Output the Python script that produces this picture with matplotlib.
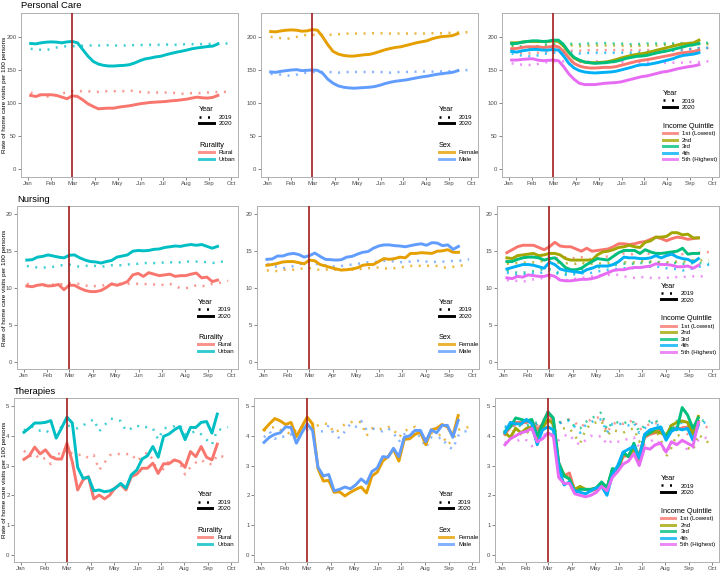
import matplotlib
matplotlib.use("Agg")
import matplotlib.pyplot as plt
from matplotlib.lines import Line2D
import numpy as np

plt.rcParams['font.family'] = ['Liberation Sans', 'DejaVu Sans']

# ---- x axis: days since 1 Jan 2020, weekly observations starting 5 Jan ----
start_day = 4
month_ticks = [0, 31, 60, 91, 121, 152, 182, 213, 244, 274]
month_labels = ['Jan', 'Feb', 'Mar', 'Apr', 'May', 'Jun', 'Jul', 'Aug', 'Sep', 'Oct']
covid_day = 60

# ================= Personal Care =================
pc_rural_2020 = [111.6, 110, 112.6, 112.6, 112.6, 111.6, 109, 106.6, 111, 110, 105, 99, 95, 91.4, 92, 92.4, 92.4, 94, 95, 96,
                 97.5, 99, 100, 101, 101.5, 102, 102.5, 103.5, 104, 105, 106, 107.6, 109, 108, 107.6, 108.6, 111.6]
pc_urban_2020 = [190, 189.4, 191, 192, 192.4, 192, 191, 192.4, 193, 191, 181, 171, 163, 159, 157, 156, 156, 156.6, 157, 158,
                 160.6, 164, 166.7, 168, 169.7, 170.7, 173, 175, 176.8, 178.3, 180, 182, 183.3, 184.3, 185.4, 186, 189.4]
pc_rural_2019 = [116, 112, 113, 110, 110, 112, 114, 117, 118, 118, 118, 118, 117, 117, 118, 118, 118, 118, 118, 119,
                 118, 117, 116, 116, 116, 116, 116, 116, 115, 114, 115, 115, 115, 115, 116, 116, 117, 117, 117]
pc_urban_2019 = [182, 181, 180.5, 180, 182, 184, 185, 186, 186, 186, 186.5, 187, 187, 187, 187, 187.5, 187, 187, 187, 187,
                 187.5, 187.5, 188, 188, 188, 188, 188.5, 188, 188, 188.5, 189, 189, 189, 189, 189, 189.5, 190, 190, 190]

pc_female_2020 = [208, 207.5, 209, 210, 210.5, 210, 208.5, 209, 211, 210, 200, 188, 178, 174, 172, 171, 171, 172, 173, 173.5,
                  175.5, 178, 180.5, 182.5, 184, 185, 187, 189, 191, 192.5, 194, 197, 199, 200.5, 201, 202, 205]
pc_male_2020 = [147, 146.5, 148, 149, 150, 150.5, 149, 149.5, 150, 149.5, 145, 136, 130, 126, 124, 123, 122.5, 123, 123.5, 124,
                125, 127, 129.5, 131.5, 133, 134, 135, 136.5, 138, 139.5, 140.5, 142, 143.5, 144.5, 145.5, 146.5, 149]
pc_female_2019 = [200, 199, 198, 197, 198, 200, 202, 203, 203, 203, 203, 203.5, 203, 204, 204.5, 205, 205, 205, 205, 205.5,
                  205.5, 205.5, 205, 205, 205, 205, 205, 205, 205, 205, 205, 205.5, 205.5, 205.5, 206, 206, 206.5, 207, 207]
pc_male_2019 = [144, 144, 143, 142, 141, 143, 145, 146, 147, 147, 147, 147, 146.5, 146, 146.5, 147, 147, 147, 147, 147,
                147, 147, 146.5, 146, 146.5, 147, 147, 147, 147.5, 148, 147.5, 147.5, 147.5, 148, 148, 148.5, 149, 149.5, 150]

pc_q1_2020 = [182, 182.5, 184, 185, 185, 185, 184, 184.5, 186, 185, 178, 168, 160, 156, 154, 153, 153, 153.5, 154, 154,
              155, 157, 159, 161, 163, 164.5, 165.5, 167, 168.5, 170, 171.5, 173, 175, 176, 177, 178, 180]
pc_q2_2020 = [191, 191, 192, 193, 193, 193, 193, 193, 194, 193, 186, 176, 168, 164, 162, 161, 161, 161.5, 162, 163.5,
              165.5, 168, 170, 172, 173.5, 174.5, 176, 178, 180, 182, 184, 186, 188, 189.5, 190, 191, 195]
pc_q3_2020 = [190, 190, 192, 193, 194, 194, 193, 193.5, 195, 195, 188, 177, 169, 165, 162, 161, 160, 160.5, 161, 162,
              163, 165, 167.5, 169, 170.5, 171, 172, 174, 176, 177.5, 179, 181, 183, 185, 187, 188, 190]
pc_q4_2020 = [178, 177, 179, 180, 181, 181, 180, 180, 181, 180, 171, 160, 153, 149, 147, 146, 145.5, 146, 146.5, 147,
              148, 150, 152, 154, 156.5, 158, 158, 159.5, 161, 163, 165, 167, 170, 172, 173, 174, 176]
pc_q5_2020 = [165, 165, 166, 166.5, 167, 165, 164, 164.5, 165, 164, 155, 144, 136, 130, 128, 128, 128, 129, 130, 130.5,
              131, 132, 134, 136, 138, 140, 141, 143, 145, 147, 148, 150, 152, 153.5, 155, 156, 158]
pc_q1_2019 = [178, 176, 176, 175, 175, 176, 177, 178, 179, 179, 179, 179, 179, 179, 179, 180, 180, 180, 180, 180,
              180, 180, 180, 180, 180, 180, 180, 180, 180, 180, 181, 181, 181, 181, 182, 182, 183, 183, 183]
pc_q2_2019 = [186, 184, 184, 183, 183, 185, 186, 187, 187, 187, 187, 187, 187, 186, 186, 187, 187, 187, 187, 187,
              187, 187, 186, 186, 186, 187, 187, 187, 187, 188, 188, 188, 188, 188, 188.5, 189, 189, 189, 189]
pc_q3_2019 = [188, 185, 186, 185, 184, 186, 188, 189, 190, 190, 190, 190, 189, 189, 190, 190, 190, 190.5, 190.5, 190,
              190, 190, 189, 189, 189, 189.5, 190, 190, 190, 190, 190, 190, 190.5, 190.5, 190.5, 191, 191, 191, 191]
pc_q4_2019 = [175, 172, 172, 171, 170, 172, 174, 175, 176, 176, 176, 176, 176, 175, 175, 176, 176, 176, 176, 176,
              176, 176, 176, 176, 176, 177, 177, 178, 178, 178, 179, 179, 179, 180, 181, 182, 183, 183, 184]
pc_q5_2019 = [160, 159, 158, 158, 157, 159, 161, 162, 163, 163, 163, 163, 162, 162, 162, 163, 163, 163, 162, 162,
              162, 162, 161, 161, 161, 161, 161, 161, 161, 161, 161, 161, 161, 161, 162, 162, 162, 163, 163]

# ================= Nursing =================
nu_rural_2020 = [10.3, 10.2, 10.4, 10.5, 10.3, 10.35, 10.5, 9.8, 10.4, 10.4, 10.0, 9.7, 9.55, 9.55, 9.7, 10.1, 10.6, 10.4, 10.6, 10.9,
                 11.8, 12.0, 11.6, 12.1, 11.9, 11.7, 11.8, 11.9, 11.6, 11.7, 11.7, 11.9, 12.05, 11.4, 11.5, 10.9, 11.1]
nu_urban_2020 = [13.8, 13.85, 14.2, 14.3, 14.5, 14.35, 14.2, 14.1, 14.45, 14.5, 14.1, 13.8, 13.6, 13.55, 13.4, 13.6, 13.75, 14.2, 14.35, 14.5,
                 15.0, 15.1, 15.05, 15.1, 15.25, 15.3, 15.5, 15.6, 15.7, 15.65, 15.8, 15.9, 15.8, 15.9, 15.65, 15.4, 15.65]
nu_rural_2019 = [10.6, 10.4, 10.4, 10.3, 10.4, 10.5, 10.5, 10.6, 10.7, 10.6, 10.6, 10.4, 10.2, 10.3, 10.3, 10.5, 10.5, 10.6, 10.6, 10.6,
                 10.6, 10.6, 10.6, 10.5, 10.5, 10.4, 10.5, 10.6, 10.3, 10.0, 10.0, 10.2, 10.4, 10.3, 10.3, 10.6, 10.7, 10.8, 11.0]
nu_urban_2019 = [13.0, 12.9, 12.8, 12.8, 12.8, 12.9, 13.1, 13.1, 13.2, 13.0, 12.9, 13.0, 13.1, 13.0, 12.9, 13.0, 13.1, 13.1, 13.1, 13.2,
                 13.3, 13.3, 13.4, 13.4, 13.4, 13.4, 13.5, 13.5, 13.5, 13.5, 13.6, 13.6, 13.6, 13.6, 13.5, 13.4, 13.5, 13.6, 13.6]

nu_female_2020 = [13.1, 13.2, 13.35, 13.55, 13.6, 13.6, 13.45, 13.3, 13.8, 13.7, 13.2, 13.0, 12.8, 12.6, 12.45, 12.5, 12.6, 12.75, 13.1, 13.2,
                  13.2, 13.6, 14.0, 13.9, 14.0, 14.2, 14.1, 14.7, 14.7, 14.8, 14.75, 14.7, 15.0, 15.05, 15.2, 14.85, 14.85]
nu_male_2020 = [13.9, 13.95, 14.35, 14.35, 14.6, 14.7, 14.55, 14.2, 14.4, 14.75, 14.3, 13.9, 13.85, 13.8, 13.85, 14.2, 14.3, 14.6, 14.85, 14.95,
                15.4, 15.7, 15.85, 15.85, 15.75, 15.7, 15.6, 15.75, 15.9, 16.0, 15.8, 16.15, 16.1, 15.75, 15.85, 15.25, 15.65]
nu_female_2019 = [12.4, 12.4, 12.3, 12.5, 12.5, 12.5, 12.6, 12.7, 12.7, 12.5, 12.5, 12.5, 12.6, 12.5, 12.5, 12.5, 12.5, 12.6, 12.6, 12.7,
                  12.8, 12.8, 12.7, 12.6, 12.7, 12.8, 12.9, 13.0, 13.1, 13.0, 13.0, 13.1, 13.0, 12.8, 12.8, 12.9, 13.0, 13.1, 13.1]
nu_male_2019 = [13.3, 13.0, 12.9, 12.7, 12.8, 13.0, 13.2, 13.4, 13.6, 13.3, 13.2, 13.1, 13.0, 12.9, 13.0, 13.1, 13.2, 13.3, 13.4, 13.5,
                13.5, 13.6, 13.7, 13.7, 13.6, 13.5, 13.6, 13.6, 13.7, 13.7, 13.6, 13.5, 13.6, 13.6, 13.6, 13.7, 13.7, 13.8, 13.9]

nu_q1_2020 = [14.8, 15.2, 15.6, 15.8, 15.8, 15.8, 15.5, 15.2, 15.6, 16.2, 15.7, 15.6, 15.6, 15.3, 15.0, 15.4, 15.0, 15.1, 15.2, 15.3,
              15.6, 16.0, 16.0, 15.9, 16.0, 16.2, 16.3, 16.6, 16.9, 16.7, 16.4, 16.7, 16.9, 16.8, 16.6, 16.7, 16.8]
nu_q2_2020 = [14.1, 14.0, 14.4, 14.5, 14.6, 14.7, 14.4, 14.5, 14.7, 14.7, 14.5, 14.0, 13.8, 13.8, 13.8, 13.8, 13.8, 14.5, 14.9, 15.0,
              15.2, 15.5, 15.6, 15.8, 15.6, 15.5, 16.2, 16.4, 16.9, 16.9, 17.0, 17.5, 17.5, 17.2, 17.3, 16.8, 16.8]
nu_q3_2020 = [13.6, 13.6, 13.9, 14.1, 14.2, 14.2, 14.1, 13.8, 14.0, 14.1, 13.5, 12.8, 12.5, 12.5, 12.7, 13.2, 13.6, 14.0, 13.9, 13.8,
              14.3, 14.8, 15.1, 15.1, 15.1, 14.7, 15.2, 14.9, 14.7, 14.7, 14.8, 14.9, 15.0, 15.4, 14.6, 14.7, 14.7]
nu_q4_2020 = [12.6, 12.8, 13.0, 13.2, 13.2, 13.1, 12.9, 12.7, 13.5, 13.2, 12.6, 12.4, 12.3, 12.2, 12.1, 12.5, 12.7, 13.0, 13.0, 13.0,
              13.2, 13.6, 14.2, 14.1, 14.1, 14.0, 14.0, 14.1, 14.4, 14.1, 14.4, 14.6, 14.2, 14.0, 13.9, 13.5, 14.0]
nu_q5_2020 = [11.4, 11.3, 11.6, 11.5, 11.8, 11.7, 11.6, 11.6, 11.8, 11.6, 11.1, 11.0, 11.0, 11.1, 11.2, 11.2, 11.3, 11.5, 11.8, 12.1,
              12.4, 12.5, 12.5, 12.7, 12.8, 12.8, 12.9, 13.0, 13.3, 13.2, 13.2, 13.1, 12.9, 12.9, 13.0, 12.7, 13.1]
nu_q1_2019 = [13.5, 13.6, 14.0, 14.2, 14.1, 14.3, 14.3, 14.5, 14.2, 14.1, 14.0, 14.2, 14.1, 14.0, 14.2, 14.0, 13.9, 14.0, 14.2, 14.3,
              14.5, 14.6, 14.7, 14.6, 14.6, 14.7, 14.8, 14.6, 14.6, 14.5, 14.5, 14.6, 14.7, 14.6, 14.7, 14.7, 14.8, 14.8, 14.9]
nu_q2_2019 = [13.3, 13.4, 13.4, 13.5, 13.4, 13.5, 13.6, 13.7, 13.6, 13.6, 13.4, 13.4, 13.3, 13.3, 13.5, 13.2, 13.3, 13.3, 13.4, 13.4,
              13.3, 13.5, 13.5, 13.5, 13.5, 13.6, 13.7, 13.6, 13.6, 13.5, 13.5, 13.5, 13.6, 13.6, 13.6, 13.8, 13.8, 13.7, 13.8]
nu_q3_2019 = [12.4, 12.2, 12.1, 12.1, 12.2, 12.3, 12.4, 12.6, 12.6, 12.3, 12.0, 12.0, 12.0, 12.2, 12.5, 12.6, 12.7, 12.8, 12.9, 13.0,
              13.1, 13.2, 13.3, 13.3, 13.3, 13.4, 13.4, 13.5, 13.5, 13.4, 13.3, 13.4, 13.4, 13.3, 13.3, 13.4, 13.4, 13.3, 13.3]
nu_q4_2019 = [12.1, 11.9, 11.8, 11.9, 11.8, 12.0, 12.0, 12.2, 12.4, 12.1, 11.9, 11.8, 11.8, 11.9, 12.0, 12.0, 12.1, 12.3, 12.3, 12.5,
              12.6, 12.6, 12.7, 12.8, 12.7, 12.8, 12.9, 12.9, 13.0, 12.8, 12.7, 12.6, 12.6, 12.4, 12.5, 12.7, 12.9, 13.0, 13.2]
nu_q5_2019 = [11.1, 11.0, 11.0, 10.9, 11.0, 11.2, 11.3, 11.4, 11.4, 11.3, 11.2, 11.1, 11.1, 11.3, 11.4, 11.5, 11.6, 11.7, 11.8, 11.8,
              11.9, 11.8, 11.6, 11.5, 11.4, 11.5, 11.5, 11.4, 11.4, 11.4, 11.4, 11.5, 11.5, 11.5, 11.6, 11.6, 11.6, 11.6, 11.6]

# ================= Therapies =================
th_rural_2020 = [3.21, 3.33, 3.62, 3.39, 3.53, 3.30, 3.22, 3.22, 3.75, 3.13, 2.18, 2.52, 2.63, 1.88, 2.01, 1.88, 2.01, 2.26, 2.37, 2.18,
                 2.63, 2.71, 2.91, 2.91, 3.08, 2.74, 3.06, 3.06, 3.19, 3.13, 2.94, 3.47, 3.30, 3.64, 3.28, 3.19, 3.72]
th_urban_2020 = [4.12, 4.26, 4.43, 4.43, 4.45, 4.51, 3.92, 4.26, 4.63, 4.43, 2.94, 2.57, 2.61, 2.15, 2.18, 2.12, 2.15, 2.24, 2.40, 2.24,
                 2.69, 2.85, 3.22, 3.33, 3.64, 3.28, 3.98, 4.06, 4.20, 4.31, 3.87, 4.28, 4.28, 4.45, 4.48, 4.09, 4.73]
th_rural_2019 = [3.50, 3.30, 3.40, 3.20, 3.25, 3.05, 3.45, 3.35, 3.55, 3.40, 3.35, 3.38, 3.25, 3.35, 2.85, 3.10, 3.35, 3.40, 3.38, 3.38,
                 3.40, 3.15, 3.30, 3.45, 3.20, 2.70, 2.90, 3.15, 3.20, 3.10, 2.70, 2.95, 3.10, 3.20, 3.05, 3.05, 3.35, 3.30, 3.20]
th_urban_2019 = [4.18, 4.30, 4.30, 4.17, 4.20, 4.05, 4.10, 4.30, 4.35, 4.30, 4.25, 4.35, 4.45, 4.56, 4.15, 4.35, 4.57, 4.57, 4.50, 4.17,
                 4.25, 4.35, 4.26, 4.30, 4.25, 3.87, 4.25, 4.28, 4.32, 4.37, 4.05, 4.10, 4.15, 4.05, 3.87, 3.70, 4.20, 4.22, 4.29]

th_female_2020 = [4.20, 4.40, 4.58, 4.50, 4.38, 4.45, 3.97, 4.30, 4.63, 4.40, 2.90, 2.48, 2.50, 2.10, 2.12, 1.98, 2.10, 2.20, 2.28, 2.08,
                  2.65, 2.78, 3.15, 3.30, 3.55, 3.15, 3.88, 3.90, 4.05, 4.12, 3.70, 4.20, 4.25, 4.38, 4.30, 4.00, 4.68]
th_male_2020 = [3.78, 3.95, 4.05, 4.10, 4.30, 4.28, 3.75, 4.10, 4.40, 4.18, 2.95, 2.65, 2.70, 2.15, 2.20, 2.28, 2.22, 2.35, 2.55, 2.40,
                2.80, 2.92, 3.30, 3.28, 3.58, 3.30, 3.95, 4.00, 4.18, 4.18, 3.80, 4.20, 4.10, 4.35, 4.35, 3.95, 4.52]
th_female_2019 = [4.18, 4.25, 4.30, 4.20, 4.15, 4.05, 4.20, 4.25, 4.30, 4.20, 4.35, 4.42, 4.38, 4.10, 4.20, 4.40, 4.45, 4.50, 4.45, 4.00,
                  4.25, 4.20, 4.25, 4.30, 4.22, 3.95, 4.15, 4.25, 4.30, 4.10, 3.90, 4.10, 4.00, 4.05, 3.70, 3.85, 4.20, 4.25, 4.30]
th_male_2019 = [3.95, 4.15, 3.90, 4.00, 3.95, 4.05, 4.10, 4.15, 4.20, 4.05, 4.15, 4.15, 4.35, 4.05, 3.92, 4.15, 4.40, 4.30, 4.50, 4.20,
                4.25, 4.20, 4.15, 4.25, 4.10, 3.80, 4.05, 4.10, 4.15, 3.95, 3.60, 3.95, 3.90, 3.95, 3.65, 3.55, 4.00, 4.15, 4.15]

th_q1_2020 = [4.05, 4.30, 4.45, 4.45, 4.45, 4.50, 4.20, 4.40, 4.80, 4.50, 3.10, 2.65, 2.75, 2.15, 2.25, 2.20, 2.15, 2.20, 2.35, 2.25,
              2.80, 2.85, 3.30, 3.35, 3.55, 3.40, 3.95, 4.05, 4.10, 4.20, 3.90, 4.20, 4.25, 4.25, 4.30, 4.10, 4.50]
th_q2_2020 = [4.10, 3.95, 4.25, 4.10, 4.25, 4.30, 3.80, 4.25, 4.55, 4.40, 3.05, 2.70, 2.55, 2.20, 2.30, 2.20, 2.20, 2.25, 2.40, 2.25,
              2.85, 2.90, 3.40, 3.30, 3.55, 3.15, 4.00, 4.10, 4.15, 4.10, 4.00, 4.35, 4.45, 4.50, 4.45, 4.05, 4.65]
th_q3_2020 = [4.15, 4.30, 4.60, 4.55, 4.50, 4.55, 4.00, 4.40, 4.80, 4.60, 3.10, 2.65, 2.55, 2.10, 2.20, 2.20, 2.20, 2.25, 2.45, 2.25,
              2.90, 2.85, 3.45, 3.30, 3.75, 3.25, 4.00, 4.10, 4.25, 4.25, 3.95, 4.25, 4.20, 4.95, 4.70, 4.25, 4.60]
th_q4_2020 = [4.10, 4.45, 4.40, 4.40, 4.55, 4.40, 3.70, 4.20, 4.30, 4.20, 2.95, 2.35, 2.45, 2.15, 2.10, 2.05, 2.15, 2.25, 2.30, 2.00,
              2.70, 3.00, 3.45, 3.55, 3.65, 3.25, 4.05, 4.20, 4.25, 4.30, 3.85, 4.15, 4.25, 4.20, 4.25, 3.85, 4.35]
th_q5_2020 = [3.70, 3.90, 4.00, 4.10, 4.15, 4.25, 3.80, 3.90, 4.10, 4.00, 2.60, 2.40, 2.40, 2.05, 2.00, 1.95, 2.00, 2.10, 2.30, 2.15,
              2.60, 2.80, 3.05, 3.15, 3.40, 3.00, 3.60, 3.55, 3.70, 3.75, 3.45, 3.80, 3.70, 3.85, 3.75, 3.65, 4.45]
th_q1_2019 = [4.00, 4.40, 4.30, 4.40, 4.35, 4.25, 4.35, 4.40, 4.50, 4.40, 4.40, 4.50, 4.55, 4.45, 4.30, 4.40, 4.55, 4.60, 4.65, 4.10,
              4.40, 4.45, 4.40, 4.45, 4.55, 4.20, 4.30, 4.40, 4.45, 4.20, 3.90, 4.20, 4.30, 4.35, 4.05, 3.90, 4.45, 4.35, 4.25]
th_q2_2019 = [4.05, 4.10, 4.20, 4.05, 4.15, 4.00, 4.20, 4.25, 4.30, 4.15, 4.20, 4.25, 4.25, 4.00, 3.75, 4.20, 4.40, 4.45, 4.50, 4.00,
              4.20, 4.15, 4.10, 4.20, 4.25, 3.80, 4.05, 4.10, 4.20, 3.90, 3.30, 3.60, 4.05, 3.95, 3.60, 3.50, 4.05, 3.90, 3.75]
th_q3_2019 = [4.25, 4.40, 4.45, 4.30, 4.35, 4.40, 4.45, 4.55, 4.55, 4.45, 4.45, 4.50, 4.55, 4.30, 4.25, 4.45, 4.60, 4.65, 4.80, 4.20,
              4.45, 4.45, 4.40, 4.50, 4.45, 4.15, 4.35, 4.50, 4.55, 4.30, 4.05, 4.40, 4.50, 4.55, 4.20, 4.15, 4.60, 4.50, 4.60]
th_q4_2019 = [4.30, 4.40, 4.30, 4.40, 4.30, 4.30, 4.40, 4.35, 4.40, 4.35, 4.40, 4.50, 4.50, 4.30, 4.10, 4.35, 4.45, 4.55, 4.55, 4.10,
              4.40, 4.40, 4.40, 4.35, 4.45, 4.10, 4.25, 4.40, 4.50, 4.20, 4.00, 4.25, 4.35, 4.45, 4.15, 4.10, 4.40, 4.45, 4.40]
th_q5_2019 = [3.75, 3.95, 3.80, 3.90, 3.85, 3.65, 3.80, 4.00, 4.10, 3.95, 3.85, 4.00, 4.05, 3.80, 3.70, 3.85, 4.00, 3.95, 4.00, 3.70,
              3.85, 3.80, 3.85, 3.90, 3.95, 3.60, 3.70, 3.80, 3.90, 3.70, 3.45, 3.65, 3.75, 3.85, 3.50, 3.60, 3.85, 3.95, 3.90]

# ---- categories / styles ----
rurality_labels = ['Rural', 'Urban']
sex_labels = ['Female', 'Male']
quintile_labels = ['1st (Lowest)', '2nd', '3rd', '4th', '5th (Highest)']
rurality_colors = ['#F8766D', '#00BFC4']
sex_colors = ['#E69F00', '#619CFF']
quintile_colors = ['#F8766D', '#A3A500', '#00BF7D', '#00B0F6', '#E76BF3']
year_labels = ['2019', '2020']
row_titles = ['Personal Care', 'Nursing', 'Therapies']
y_label = 'Rate of home care visits per 100 persons'

row_ylims = [(-11.5, 236), (-0.9, 21.1), (-0.24, 5.27)]
row_yticks = [[0, 50, 100, 150, 200], [0, 5, 10, 15, 20], [0, 1, 2, 3, 4, 5]]

W, H = 722, 578
fig = plt.figure(figsize=(W / 100, H / 100), dpi=100)

# pixel boxes for axes
row_px = [(13, 177), (206, 369), (398, 562)]
col_px = [[(21, 238), (261, 478), (502, 719)],
          [(17, 238), (257, 479), (497, 719)],
          [(14, 238), (254, 479), (495, 719)]]

panels = [
    [((pc_rural_2020, pc_urban_2020), (pc_rural_2019, pc_urban_2019), rurality_labels, rurality_colors, 'Rurality'),
     ((pc_female_2020, pc_male_2020), (pc_female_2019, pc_male_2019), sex_labels, sex_colors, 'Sex'),
     ((pc_q1_2020, pc_q2_2020, pc_q3_2020, pc_q4_2020, pc_q5_2020),
      (pc_q1_2019, pc_q2_2019, pc_q3_2019, pc_q4_2019, pc_q5_2019), quintile_labels, quintile_colors, 'Income Quintile')],
    [((nu_rural_2020, nu_urban_2020), (nu_rural_2019, nu_urban_2019), rurality_labels, rurality_colors, 'Rurality'),
     ((nu_female_2020, nu_male_2020), (nu_female_2019, nu_male_2019), sex_labels, sex_colors, 'Sex'),
     ((nu_q1_2020, nu_q2_2020, nu_q3_2020, nu_q4_2020, nu_q5_2020),
      (nu_q1_2019, nu_q2_2019, nu_q3_2019, nu_q4_2019, nu_q5_2019), quintile_labels, quintile_colors, 'Income Quintile')],
    [((th_rural_2020, th_urban_2020), (th_rural_2019, th_urban_2019), rurality_labels, rurality_colors, 'Rurality'),
     ((th_female_2020, th_male_2020), (th_female_2019, th_male_2019), sex_labels, sex_colors, 'Sex'),
     ((th_q1_2020, th_q2_2020, th_q3_2020, th_q4_2020, th_q5_2020),
      (th_q1_2019, th_q2_2019, th_q3_2019, th_q4_2019, th_q5_2019), quintile_labels, quintile_colors, 'Income Quintile')],
]

dotted = (0, (0.8, 2.6))
LW = 2.1
LWD = 1.8
fs_tick = 4.3
fs_leg = 4.4
fs_legt = 5.3

for r in range(3):
    top, bot = row_px[r]
    for c in range(3):
        left, right = col_px[r][c]
        ax = fig.add_axes([left / W, 1 - bot / H, (right - left) / W, (bot - top) / H])
        s2020, s2019, labels, colors, gtitle = panels[r][c]
        for vals, col in zip(s2019, colors):
            x = start_day + 7 * np.arange(len(vals))
            ax.plot(x, vals, color=col, lw=LWD, linestyle=dotted, alpha=0.75,
                    dash_capstyle='butt', zorder=2)
        for vals, col in zip(s2020, colors):
            x = start_day + 7 * np.arange(len(vals))
            ax.plot(x, vals, color=col, lw=LW, solid_joinstyle='round', zorder=3)
        ax.axvline(covid_day, color='#A31C1C', lw=1.2, zorder=4)

        ax.set_xlim(-9, 283)
        ax.set_ylim(*row_ylims[r])
        ax.set_xticks(month_ticks)
        ax.set_xticklabels(month_labels)
        ax.set_yticks(row_yticks[r])
        ax.tick_params(axis='both', length=2, width=0.5, color='#555555',
                       labelcolor='#4D4D4D', labelsize=fs_tick, pad=1.2)
        for sp in ax.spines.values():
            sp.set_color('#B0B0B0')
            sp.set_linewidth(0.7)

        # legends
        if c < 2:
            lx, ly1, ly2 = 0.82, 0.43, 0.215
        else:
            lx, ly1, ly2 = 0.74, 0.53, 0.33
        yh = [Line2D([], [], color='black', lw=LWD, linestyle=dotted, dash_capstyle='butt'),
              Line2D([], [], color='black', lw=LW)]
        leg1 = ax.legend(yh, year_labels, title='Year', loc='upper left', bbox_to_anchor=(lx, ly1),
                         frameon=False, borderpad=0, fontsize=fs_leg, title_fontsize=fs_legt,
                         handlelength=2.4, handletextpad=0.8, labelspacing=0.2, alignment='left',
                         borderaxespad=0)
        ax.add_artist(leg1)
        gh = [Line2D([], [], color=col, lw=LW, alpha=0.8) for col in colors]
        ax.legend(gh, labels, title=gtitle, loc='upper left', bbox_to_anchor=(lx, ly2),
                  frameon=False, borderpad=0, fontsize=fs_leg, title_fontsize=fs_legt,
                  handlelength=2.4, handletextpad=0.8, labelspacing=0.2, alignment='left',
                  borderaxespad=0)

    # row title and y label
    fig.text(col_px[r][0][0] / W, 1 - (top - 7) / H, row_titles[r], fontsize=6.8,
             ha='left', va='center', color='black')
    fig.text(4.5 / W, 1 - ((top + bot) / 2) / H, y_label, fontsize=4.6, rotation=90,
             ha='center', va='center', color='black')

fig.savefig('out.png', dpi=100)
